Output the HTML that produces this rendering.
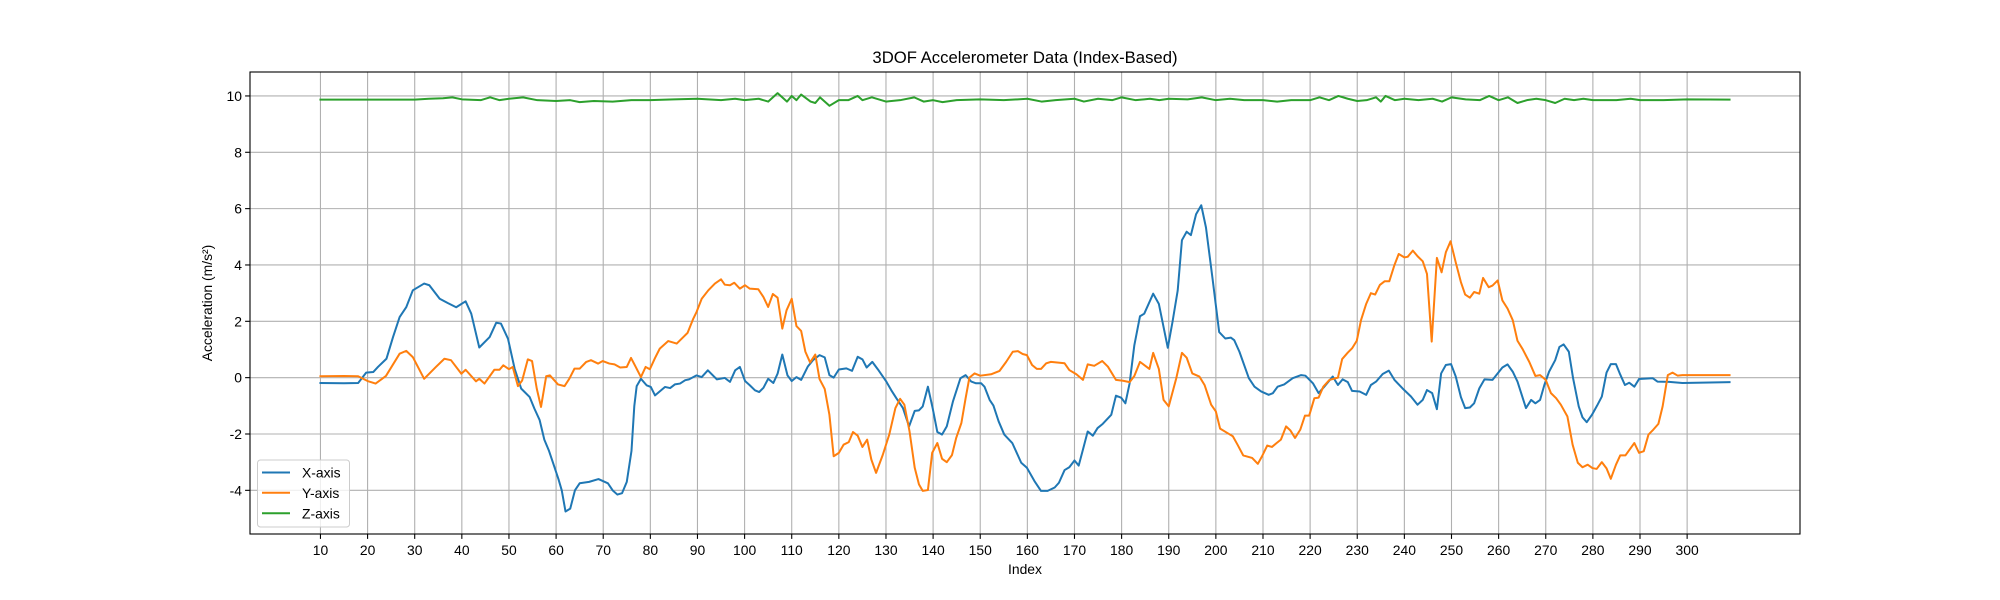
<!DOCTYPE html>
<html><head><meta charset="utf-8"><style>
html,body{margin:0;padding:0;background:#fff;}
svg{display:block;font-family:"Liberation Sans","DejaVu Sans",sans-serif;}
</style></head><body>
<svg id="chart" width="2000" height="600" viewBox="0 0 2000 600">
<rect x="0" y="0" width="2000" height="600" fill="#fff"/>
<g id="grid"></g>
<g id="series"></g>
<rect x="250" y="72" width="1550" height="462" fill="none" stroke="#000" stroke-width="1.1"/>
<g id="ticks"></g>
<text x="1025" y="63" text-anchor="middle" font-size="16.7">3DOF Accelerometer Data (Index-Based)</text>
<text x="1025" y="574" text-anchor="middle" font-size="13.9">Index</text>
<text x="0" y="0" transform="translate(212,303) rotate(-90)" text-anchor="middle" font-size="13.9">Acceleration (m/s²)</text>
<g>
<rect x="257.5" y="460" width="92" height="67" rx="3" fill="#fff" fill-opacity="0.8" stroke="#ccc"/>
<g><line x1="262" y1="472.5" x2="290" y2="472.5" stroke="#1f77b4" stroke-width="2"/><text x="302" y="477.5" font-size="13.9">X-axis</text></g>
<g><line x1="262" y1="492.8" x2="290" y2="492.8" stroke="#ff7f0e" stroke-width="2"/><text x="302" y="497.8" font-size="13.9">Y-axis</text></g>
<g><line x1="262" y1="513.3" x2="290" y2="513.3" stroke="#2ca02c" stroke-width="2"/><text x="302" y="518.3" font-size="13.9">Z-axis</text></g>
</g>
</svg>
<script>
const xTickLabels=[10,20,30,40,50,60,70,80,90,100,110,120,130,140,150,160,170,180,190,200,210,220,230,240,250,260,270,280,290,300];
const yTickLabels=[-4,-2,0,2,4,6,8,10];
const xAxisIdx=[10,15,18,19.7,21.2,22.2,24,25.4,26.8,28.2,29.6,32,33.1,35.3,37,38.8,40.8,42,43.7,45.9,47.3,48.3,49.8,51.2,52.6,54.4,55.4,56.5,57.5,58.5,59.5,60.5,61.2,62,63,64,65,67,69,71,72,73,74,75,76,76.6,77.1,78,79.2,80.1,81,83.1,84.2,85.2,86.3,87.4,88.2,89.8,90.9,92.2,94.1,95.8,96.9,98,99,100.1,101.1,102.2,103.1,104,105,106.1,107,108,109.1,110,111,112,113.4,114.5,115.9,117,118,118.9,120,121.6,122.8,124,125,125.9,127.1,128.3,130,131.1,132.2,133.6,134.9,136.1,137,137.8,138.9,139.9,140.9,141.9,142.9,144.2,145.8,146.9,148.1,149.1,150.2,150.9,152,152.8,153.9,155.1,156.8,158.7,159.9,161.5,162.9,164.3,165.8,166.7,167.9,168.9,170,170.9,171.8,172.8,173.9,174.9,176,177.8,178.8,179.9,180.8,181.7,182.7,183.9,184.8,186.7,187.9,189.8,190.8,191.9,192.8,193.8,194.7,195.8,196.9,197.9,199.3,200.7,202,203.2,203.9,205,207,208.2,209.6,211.2,212.1,213.1,214.5,216.3,218.1,219,220.6,221.8,223,224.8,225.9,226.9,228,228.9,230.5,231.9,232.9,234,235.4,236.7,237.9,239.6,241.4,242.8,243.9,244.8,245.9,246.9,247.8,248.8,249.9,250.9,252,252.9,253.9,254.8,255.9,257,258.7,260.8,261.9,263,264,265.8,266.9,267.8,268.8,269.7,270.7,272,272.9,273.8,274.9,275.8,277,277.8,278.7,279.8,280.9,281.9,282.9,283.8,284.9,285.7,286.8,287.7,288.8,289.8,292.7,293.7,296.2,299,309];
const xAxisVals=[-0.19,-0.2,-0.19,0.18,0.2,0.38,0.67,1.44,2.15,2.5,3.1,3.34,3.28,2.8,2.65,2.5,2.71,2.27,1.07,1.44,1.95,1.92,1.38,0.32,-0.39,-0.69,-1.1,-1.5,-2.2,-2.6,-3.1,-3.6,-4.0,-4.75,-4.65,-4.0,-3.75,-3.7,-3.6,-3.75,-4.0,-4.15,-4.1,-3.7,-2.6,-1.0,-0.3,-0.04,-0.27,-0.33,-0.63,-0.33,-0.37,-0.24,-0.21,-0.09,-0.06,0.08,0.02,0.26,-0.06,-0.01,-0.15,0.26,0.38,-0.12,-0.27,-0.45,-0.51,-0.36,-0.04,-0.19,0.14,0.82,0.08,-0.12,0.02,-0.08,0.39,0.62,0.8,0.72,0.09,0,0.29,0.33,0.24,0.74,0.65,0.36,0.56,0.29,-0.12,-0.44,-0.73,-1.08,-1.73,-1.18,-1.16,-1.02,-0.32,-1.08,-1.93,-2.02,-1.73,-0.85,-0.02,0.09,-0.14,-0.2,-0.2,-0.32,-0.79,-0.99,-1.55,-2.02,-2.32,-3.02,-3.2,-3.67,-4.02,-4.02,-3.9,-3.73,-3.28,-3.18,-2.94,-3.12,-2.55,-1.91,-2.06,-1.79,-1.64,-1.32,-0.64,-0.71,-0.91,-0.2,1.15,2.18,2.27,2.98,2.62,1.06,1.98,3.09,4.88,5.18,5.06,5.8,6.12,5.33,3.51,1.62,1.39,1.42,1.33,0.92,-0.02,-0.32,-0.49,-0.61,-0.55,-0.32,-0.24,-0.02,0.09,0.07,-0.2,-0.55,-0.32,0.04,-0.26,-0.06,-0.16,-0.47,-0.49,-0.61,-0.26,-0.14,0.13,0.25,-0.08,-0.38,-0.67,-0.96,-0.79,-0.44,-0.55,-1.12,0.15,0.45,0.48,0.04,-0.69,-1.08,-1.06,-0.91,-0.38,-0.06,-0.08,0.36,0.47,0.21,-0.14,-1.08,-0.79,-0.91,-0.79,-0.26,0.21,0.62,1.09,1.18,0.92,-0.02,-1.02,-1.41,-1.58,-1.32,-0.99,-0.67,0.18,0.48,0.48,0.15,-0.26,-0.18,-0.32,-0.05,-0.02,-0.14,-0.15,-0.19,-0.16];
const yAxisIdx=[10,15,18,20,21.7,23.9,26.8,28.2,29.6,32,34.5,36.3,37.7,39.9,40.8,43,43.7,44.8,46.9,48,48.8,50,50.8,51.9,52.8,54,54.9,55.9,56.8,57.9,58.7,60.4,61.8,62.8,63.9,65,66.4,67.4,68.9,69.9,71.3,72.4,73.6,75,75.9,76.9,78,79,79.9,81,82,83.8,85.6,87,87.9,89.1,89.8,90.9,92.3,93.7,95,95.8,96.9,97.8,99,100.1,101.1,102.9,104,105,106,107,108,108.9,110,111,112,112.9,113.9,115,115.9,117,118,118.9,120,121,122.1,123,124,125,126,126.9,127.9,129.3,130.7,132,133,133.9,135,136.1,137,137.8,138.9,139.8,140.9,141.9,142.9,144,144.9,146,146.9,147.7,148.8,150,152.3,154.1,155.5,156.9,158,159,159.9,161,162,162.9,164,165,167.9,168.9,170.4,171.8,172.8,174.2,175.9,177.1,178.8,180.3,181.7,182.7,183.9,185.9,186.7,187.9,188.9,190,191.6,192.8,193.8,195,196.5,197.6,199,200,200.9,202.2,203.6,204.6,205.8,207.7,208.9,209.8,210.9,211.9,212.9,213.8,214.9,215.8,216.8,217.9,218.9,219.8,220.9,221.8,222.8,224.1,225.9,226.8,228,228.9,229.9,230.8,231.9,232.9,233.8,234.8,235.8,236.8,237.9,238.8,240,240.7,241.8,242.8,243.9,244.8,245.8,246.9,247.9,248.8,249.8,250.9,252,252.9,253.9,254.8,255.9,256.7,257.9,258.7,259.8,260.8,261.9,263,264,265.1,266.5,267.8,268.8,270,271.1,272.2,273.2,274.6,275.7,276.8,277.8,278.9,279.9,280.8,281.9,282.9,283.8,284.9,285.8,286.9,288.8,289.8,290.8,291.8,292.8,293.9,294.8,295.9,296.9,298,299,309];
const yAxisVals=[0.05,0.06,0.05,-0.12,-0.21,0.06,0.85,0.95,0.73,-0.04,0.38,0.67,0.62,0.14,0.28,-0.13,-0.04,-0.21,0.28,0.28,0.44,0.3,0.38,-0.3,-0.1,0.65,0.59,-0.39,-1.04,0.05,0.08,-0.24,-0.3,-0.04,0.32,0.32,0.56,0.62,0.5,0.59,0.5,0.47,0.36,0.38,0.7,0.38,0.02,0.38,0.3,0.7,1.03,1.3,1.21,1.44,1.59,2.09,2.33,2.8,3.1,3.34,3.49,3.3,3.28,3.37,3.16,3.28,3.16,3.14,2.86,2.51,2.97,2.84,1.74,2.39,2.8,1.83,1.66,0.92,0.54,0.82,-0.05,-0.4,-1.32,-2.79,-2.67,-2.38,-2.29,-1.93,-2.06,-2.46,-2.2,-2.91,-3.38,-2.75,-2.02,-1.08,-0.75,-0.96,-1.91,-3.2,-3.79,-4.02,-3.99,-2.67,-2.32,-2.88,-3.0,-2.75,-2.14,-1.61,-0.73,0,0.15,0.07,0.12,0.24,0.56,0.92,0.94,0.84,0.8,0.45,0.31,0.31,0.51,0.56,0.51,0.27,0.12,-0.08,0.47,0.42,0.59,0.39,-0.08,-0.11,-0.16,0.06,0.56,0.31,0.88,0.31,-0.79,-1.02,-0.02,0.88,0.71,0.15,0.04,-0.26,-0.96,-1.2,-1.81,-1.94,-2.08,-2.38,-2.76,-2.85,-3.06,-2.79,-2.41,-2.46,-2.32,-2.2,-1.73,-1.87,-2.14,-1.85,-1.35,-1.35,-0.73,-0.71,-0.32,-0.08,0,0.66,0.89,1.04,1.31,2.04,2.62,3.0,2.95,3.29,3.42,3.42,4.0,4.39,4.27,4.29,4.51,4.31,4.13,3.68,1.28,4.25,3.74,4.45,4.84,4.09,3.39,2.95,2.84,3.04,2.98,3.54,3.21,3.27,3.45,2.74,2.45,2.04,1.31,1.01,0.56,0.06,0.09,-0.08,-0.55,-0.73,-0.96,-1.38,-2.38,-3.02,-3.18,-3.09,-3.21,-3.24,-3.0,-3.22,-3.59,-3.09,-2.76,-2.76,-2.32,-2.67,-2.61,-2.02,-1.85,-1.64,-1.02,0.09,0.18,0.07,0.09,0.09];
const zAxisIdx=[10,20,30,33,36,38,40,44,46,48,50,53,56,60,63,65,68,72,76,80,85,90,95,98,100,103,105,107,109,110,111,112,114,115,116,118,120,122,124,125,127,130,133,136,138,140,142,145,150,155,160,163,166,170,172,175,178,180,183,186,188,190,194,197,200,203,206,210,213,216,220,222,224,226,228,230,232,234,235,236,238,240,243,246,248,250,253,256,258,260,262,264,266,268,270,272,274,276,278,280,285,288,290,295,300,309];
const zAxisVals=[9.87,9.87,9.87,9.9,9.92,9.95,9.88,9.85,9.95,9.85,9.9,9.95,9.85,9.82,9.85,9.78,9.82,9.8,9.85,9.85,9.88,9.9,9.85,9.9,9.85,9.9,9.8,10.1,9.8,10.0,9.85,10.05,9.8,9.75,9.95,9.65,9.85,9.85,10.0,9.85,9.95,9.8,9.85,9.95,9.8,9.85,9.78,9.85,9.88,9.85,9.9,9.8,9.85,9.9,9.8,9.9,9.85,9.95,9.85,9.9,9.85,9.9,9.88,9.95,9.85,9.9,9.85,9.85,9.8,9.85,9.85,9.95,9.85,10.0,9.9,9.82,9.85,9.95,9.8,10.0,9.85,9.9,9.85,9.9,9.8,9.95,9.88,9.85,10.0,9.85,9.95,9.75,9.85,9.9,9.85,9.75,9.9,9.85,9.9,9.85,9.85,9.9,9.85,9.85,9.88,9.87];

const X0=250,X1=1800,Y0=72,Y1=534,XMIN=-4.95,XMAX=323.95,YMIN=-5.55,YMAX=10.85;
function sx(v){return X0+(v-XMIN)/(XMAX-XMIN)*(X1-X0);}
function sy(v){return Y1-(v-YMIN)/(YMAX-YMIN)*(Y1-Y0);}
const NS='http://www.w3.org/2000/svg';
const grid=document.getElementById('grid'),ticks=document.getElementById('ticks'),series=document.getElementById('series');
function mk(tag,attrs,parent){const e=document.createElementNS(NS,tag);for(const k in attrs)e.setAttribute(k,attrs[k]);parent.appendChild(e);return e;}
xTickLabels.forEach(t=>{
  const x=sx(t);
  const g=mk('line',{x1:x,x2:x,y1:Y0,y2:Y1,stroke:'#b0b0b0','stroke-width':1.1},grid);
  
  
  const tk=mk('line',{x1:x,x2:x,y1:Y1,y2:Y1+4.9,stroke:'#000','stroke-width':1.1},ticks);
  
  
  const tx=mk('text',{x:x,y:Y1+21,'text-anchor':'middle','font-size':13.9},ticks);
  tx.textContent=t;
  
  
});
yTickLabels.forEach(t=>{
  const y=sy(t);
  const g=mk('line',{x1:X0,x2:X1,y1:y,y2:y,stroke:'#b0b0b0','stroke-width':1.1},grid);
  
  
  const tk=mk('line',{x1:X0-4.9,x2:X0,y1:y,y2:y,stroke:'#000','stroke-width':1.1},ticks);
  
  
  const tx=mk('text',{x:X0-8,y:y+5,'text-anchor':'end','font-size':13.9},ticks);
  tx.textContent=t;
  
  
});
function drawLine(idx,vals,color,name){
  const pts=idx.map((v,i)=>sx(v).toFixed(2)+','+sy(vals[i]).toFixed(2)).join(' ');
  const p=mk('polyline',{points:pts,fill:'none',stroke:color,'stroke-width':2,'stroke-linejoin':'round','stroke-linecap':'square'},series);
  
  
}
drawLine(xAxisIdx,xAxisVals,'#1f77b4','x-axis-line');
drawLine(yAxisIdx,yAxisVals,'#ff7f0e','y-axis-line');
drawLine(zAxisIdx,zAxisVals,'#2ca02c','z-axis-line');
</script>
</body></html>
